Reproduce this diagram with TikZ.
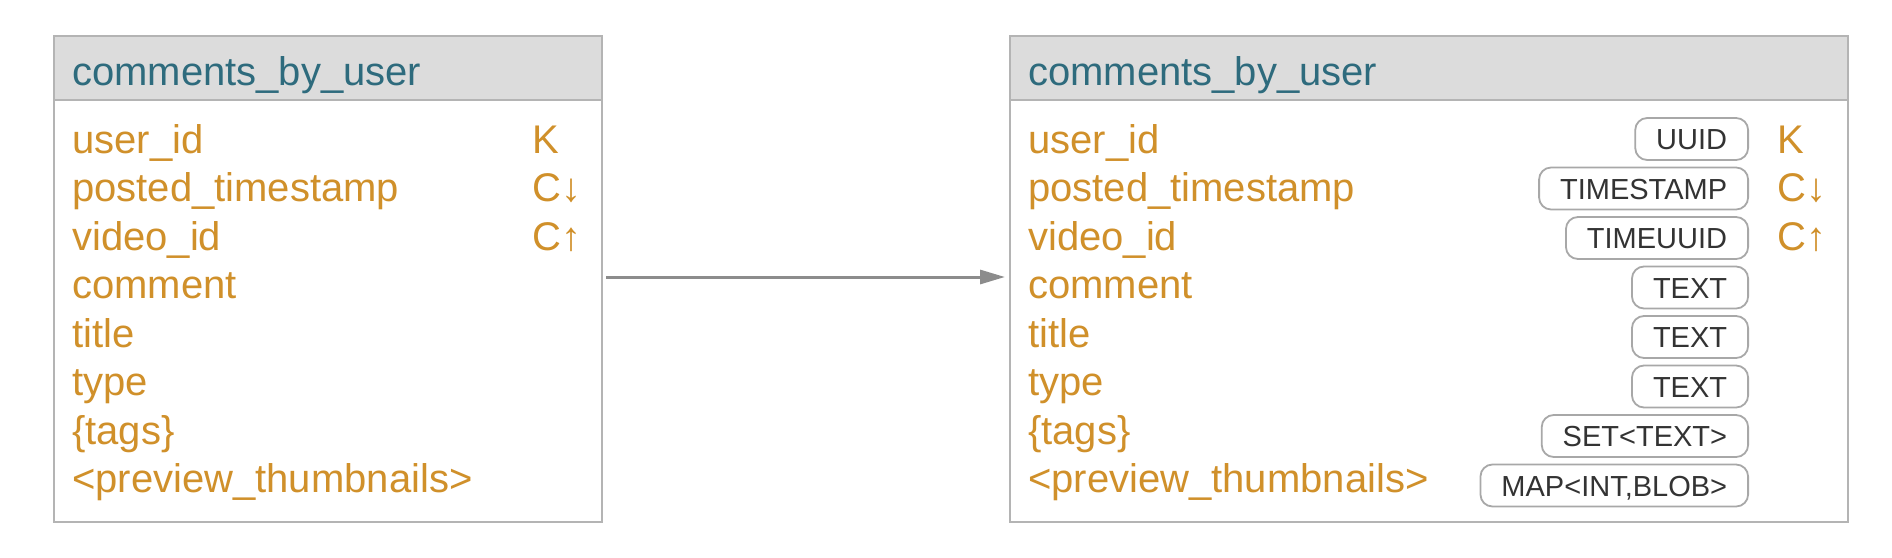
\documentclass[tikz,border=0pt]{standalone}
\usepackage{fontspec}
\setmainfont{Liberation Sans}
\usetikzlibrary{arrows.meta}
\definecolor{fieldc}{HTML}{D0902A}
\definecolor{headc}{HTML}{2E6B7D}
\definecolor{headfill}{HTML}{DCDCDC}
\definecolor{framec}{HTML}{B4B4B4}
\definecolor{pillc}{HTML}{A8A8A8}
\definecolor{pilltext}{HTML}{333333}
\definecolor{arrowc}{HTML}{8C8C8C}
\begin{document}
\begin{tikzpicture}[x=1pt,y=-1pt,
  tablebox/.style={draw=framec, line width=2pt, fill=white, rectangle, inner sep=0pt, anchor=north west},
  headbox/.style={draw=framec, line width=2pt, fill=headfill, rectangle, inner sep=0pt, anchor=north west},
  titletext/.style={anchor=base west, inner sep=0pt, text=headc, font=\fontsize{40}{48}\selectfont},
  field/.style={anchor=base west, inner sep=0pt, text=fieldc, font=\fontsize{40}{48}\selectfont},
  keymark/.style={anchor=base west, inner sep=0pt, text=fieldc, font=\fontsize{40}{48}\selectfont},
  pill/.style={draw=pillc, line width=1.8pt, rounded corners=12pt, fill=white, text=pilltext,
    font=\fontsize{29}{34}\selectfont, minimum height=42pt, text height=21pt, text depth=0pt,
    inner xsep=21pt, inner ysep=0pt, anchor=east},
  conn/.style={draw=arrowc, line width=3pt, -{Triangle[length=25pt,width=14pt]}, shorten <=3pt, shorten >=4pt}
]
\useasboundingbox (0,0) rectangle (1892,557);

% left table
\node[tablebox, minimum width=548pt, minimum height=486pt] (lt) at (53,35) {};
\node[headbox, minimum width=548pt, minimum height=64pt] (lth) at (53,35) {};
\node[titletext] (ltt) at (72,85) {comments\_by\_user};
\foreach \t [count=\i from 0] in {user\_id, posted\_timestamp, video\_id, comment, title, type, \{tags\}, <preview\_thumbnails>}
  \node[field] (l\i) at (72,153+48.5*\i) {\t};
\node[keymark] (lk0) at (532,153) {K};
\node[keymark] (lk1) at (532,201.5) {C↓};
\node[keymark] (lk2) at (532,250) {C↑};

% right table
\node[tablebox, minimum width=838pt, minimum height=486pt] (rt) at (1009,35) {};
\node[headbox, minimum width=838pt, minimum height=64pt] (rth) at (1009,35) {};
\node[titletext] (rtt) at (1028,85) {comments\_by\_user};
\foreach \t [count=\i from 0] in {user\_id, posted\_timestamp, video\_id, comment, title, type, \{tags\}, <preview\_thumbnails>}
  \node[field] (r\i) at (1028,153+48.5*\i) {\t};
\foreach \t [count=\i from 0] in {UUID, TIMESTAMP, TIMEUUID, TEXT, TEXT, TEXT, SET<TEXT>, {MAP<INT,BLOB>}}
  \node[pill] (p\i) at (1749,139+49.5*\i) {\t};
\node[keymark] (rk0) at (1777,153) {K};
\node[keymark] (rk1) at (1777,201.5) {C↓};
\node[keymark] (rk2) at (1777,250) {C↑};

% connector
\draw[conn] ([yshift=2pt]lt.east) -- ([yshift=2pt]rt.west);
\end{tikzpicture}
\end{document}
